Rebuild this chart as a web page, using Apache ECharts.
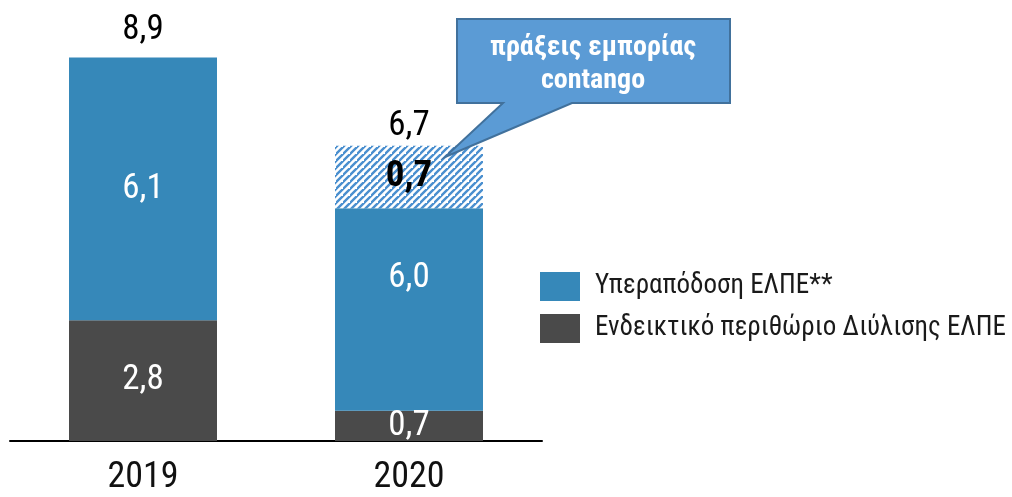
<!DOCTYPE html>
<html>
<head>
<meta charset="utf-8">
<script src="https://cdn.jsdelivr.net/npm/echarts@6/dist/echarts.min.js"></script>
<style>
  html, body { margin: 0; padding: 0; background: #fff; }
  #chart { width: 1012px; height: 497px; }
</style>
</head>
<body>
<div id="chart"></div>
<script>
// ---- data (bar heights as drawn in the picture; printed labels separately) ----
const years = ['2019', '2020'];
const refiningMargin = [2.8, 0.7];        // Ενδεικτικό περιθώριο Διύλισης ΕΛΠΕ
const outperformanceSolid = [6.1, 4.7];   // Υπεραπόδοση ΕΛΠΕ (solid part)
const contangoTrades = [null, 1.45];      // πράξεις εμπορίας contango (hatched part)
const refiningLabels = ['2,8', '0,7'];
const outperformanceLabels = ['6,1', '6,0'];
const contangoLabels = ['', '0,7'];
const totalLabels = ['8,9', '6,7'];
const seriesNames = ['Υπεραπόδοση ΕΛΠΕ**', 'Ενδεικτικό περιθώριο Διύλισης ΕΛΠΕ'];
const calloutText = 'πράξεις εμπορίας\ncontango';

const FONT = "'Roboto Condensed', 'Liberation Sans Narrow', 'DejaVu Sans Condensed', Roboto, sans-serif";
const BLUE = '#3688B9';
const DARK = '#4A4A4A';

// hatch pattern
function makeHatch() {
  const s = 7;
  const c = document.createElement('canvas');
  c.width = s; c.height = s;
  const g = c.getContext('2d');
  g.fillStyle = '#ffffff';
  g.fillRect(0, 0, s, s);
  g.strokeStyle = '#4A8FCF';
  g.lineWidth = 2.4;
  g.beginPath();
  g.moveTo(-1, s + 1); g.lineTo(s + 1, -1);
  g.moveTo(-1 - s, s + 1); g.lineTo(1, -1);
  g.moveTo(s - 1, 2 * s + 1); g.lineTo(2 * s + 1, s - 1);
  g.stroke();
  return c;
}

// label layers computed from the data
const segLabelPts = [];
const totalPts = [];
const totalDistances = [10, 2];
years.forEach((y, i) => {
  const d = refiningMargin[i];
  const b = outperformanceSolid[i];
  const h = contangoTrades[i] || 0;
  segLabelPts.push({ value: [i, d / 2], label: { formatter: refiningLabels[i], color: '#ffffff', fontWeight: 'normal' } });
  segLabelPts.push({ value: [i, d + (b + h) / 2], label: { formatter: outperformanceLabels[i], color: '#ffffff', fontWeight: 'normal' } });
  if (contangoLabels[i]) {
    segLabelPts.push({ value: [i, d + b + h / 2], label: { formatter: contangoLabels[i], color: '#000', fontWeight: 'bold', fontSize: 37 } });
  }
  totalPts.push({ value: [i, d + b + h], label: { formatter: totalLabels[i], distance: totalDistances[i] } });
});

const chart = echarts.init(document.getElementById('chart'), null, { renderer: 'canvas' });
chart.setOption({
  animation: false,
  textStyle: { fontFamily: FONT },
  grid: { left: 10, right: 470, top: 10, bottom: 56, containLabel: false },
  xAxis: {
    type: 'category',
    data: years,
    axisLine: { lineStyle: { color: '#000', width: 2 } },
    axisTick: { show: false },
    axisLabel: { fontSize: 36, color: '#111', margin: 19, fontFamily: FONT }
  },
  yAxis: { type: 'value', min: 0, max: 10, show: false },
  legend: {
    orient: 'vertical',
    left: 535,
    top: 267,
    itemWidth: 40,
    itemHeight: 29,
    itemGap: 13,
    icon: 'rect',
    data: seriesNames,
    selectedMode: false,
    textStyle: { fontSize: 27, color: '#1a1a1a', fontFamily: FONT, padding: [0, 0, 0, 10] }
  },
  series: [
    {
      name: seriesNames[1], type: 'bar', stack: 'a', barWidth: 148,
      data: refiningMargin, itemStyle: { color: DARK }, silent: true
    },
    {
      name: seriesNames[0], type: 'bar', stack: 'a', barWidth: 148,
      data: outperformanceSolid, itemStyle: { color: BLUE }, silent: true
    },
    {
      name: 'contango', type: 'bar', stack: 'a', barWidth: 148,
      data: contangoTrades,
      itemStyle: { color: { image: makeHatch(), repeat: 'repeat' } }, silent: true
    },
    {
      type: 'scatter', symbolSize: 0, silent: true, z: 10,
      itemStyle: { opacity: 1 },
      data: segLabelPts,
      label: { show: true, position: 'inside', fontSize: 35, fontFamily: FONT, textBorderWidth: 0, opacity: 1 }
    },
    {
      type: 'scatter', symbolSize: 0, silent: true, z: 10,
      itemStyle: { opacity: 1 },
      data: totalPts,
      label: { show: true, position: 'top', fontSize: 35, color: '#000', fontFamily: FONT, opacity: 1 }
    }
  ],
  graphic: [
    {
      type: 'polygon',
      shape: { points: [[457, 19], [730, 19], [730, 103], [572, 103], [445, 157], [503, 103], [457, 103]] },
      style: { fill: '#5B9BD5', stroke: '#41719C', lineWidth: 2 },
      z: 20
    },
    {
      type: 'text',
      x: 593, y: 64,
      style: {
        text: calloutText, fill: '#fff', font: 'bold 28px ' + FONT,
        align: 'center', verticalAlign: 'middle', lineHeight: 33
      },
      z: 21
    }
  ]
});
</script>
</body>
</html>
